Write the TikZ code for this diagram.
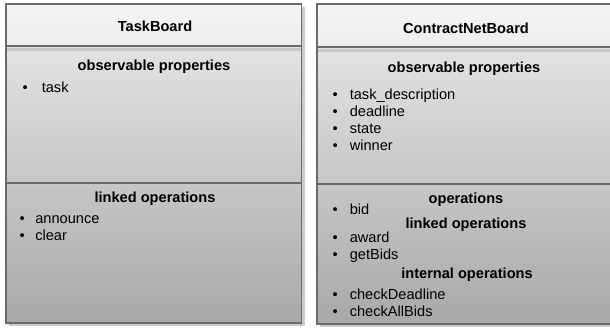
\documentclass[tikz,border=0pt]{standalone}
\usepackage{fontspec}
\setmainfont{Liberation Sans}
\begin{document}
\begin{tikzpicture}[x=1pt,y=-1pt,
  border/.style={draw=bordergray,line width=1.8pt},
  sep/.style={draw=bordergray,line width=1.6pt},
  sepshadow/.style={draw=black!22,line width=2.5pt},
  shadowbox/.style={fill=black!35,opacity=0.6},
  titlefill/.style={top color=black!4,bottom color=black!7},
  bodyfill/.style={top color=black!11,bottom color=black!34},
  head/.style={font=\fontsize{14.6}{17}\selectfont\bfseries,anchor=base,inner sep=0pt},
  item/.style={font=\fontsize{14.6}{17}\selectfont,anchor=base west,inner sep=0pt}]
\definecolor{bordergray}{HTML}{6A6A6A}
\useasboundingbox (0,0) rectangle (610,327);
\newcommand\bul[1]{\textbullet\hspace{#1pt}}
% ---------- left box ----------
\fill[shadowbox] (9,7) rectangle (305,326);
\shade[titlefill] (6,4) rectangle (301.5,46);
\shade[bodyfill] (6,46) rectangle (301.5,323);
\draw[sepshadow] (7,49.5) -- (300.5,49.5);
\draw[sepshadow] (7,186) -- (300.5,186);
\draw[sep] (6,46) -- (301.5,46);
\draw[sep] (6,183) -- (301.5,183);
\draw[border] (6,4) rectangle (301.5,323);
\node[head] (tbtitle) at (155,31.5) {TaskBoard};
\node[head] (tbobs) at (154,70) {observable properties};
\node[item] (tbtask) at (22.5,92.5) {\bul{14}task};
\node[head] (tblinked) at (155,202) {linked operations};
\node[item] (tbann) at (19.5,223) {\bul{10.5}announce};
\node[item] (tbclear) at (19.5,240) {\bul{10.5}clear};
% ---------- right box ----------
\fill[shadowbox] (320,7) rectangle (614,327);
\shade[titlefill] (317,4) rectangle (614,47);
\shade[bodyfill] (317,47) rectangle (614,324);
\draw[sepshadow] (318,50.5) -- (614,50.5);
\draw[sepshadow] (318,187) -- (614,187);
\draw[sep] (317,47) -- (614,47);
\draw[sep] (317,184) -- (614,184);
\draw[border] (317,4) rectangle (616,324);
\node[head] (cntitle) at (466,33) {ContractNetBoard};
\node[head] (cnobs) at (464,72) {observable properties};
\node[item] (cntask) at (332.5,99.5) {\bul{12}task\_description};
\node[item] (cndead) at (332.5,116.5) {\bul{12}deadline};
\node[item] (cnstate) at (332.5,133.5) {\bul{12}state};
\node[item] (cnwin) at (332.5,150.5) {\bul{12}winner};
\node[head] (cnops) at (466,203) {operations};
\node[item] (cnbid) at (332.5,214) {\bul{12}bid};
\node[head] (cnlinked) at (466,228) {linked operations};
\node[item] (cnaward) at (332.5,242.5) {\bul{12}award};
\node[item] (cnget) at (332.5,259.5) {\bul{12}getBids};
\node[head] (cnint) at (467,278) {internal operations};
\node[item] (cncheckd) at (332.5,299) {\bul{12}checkDeadline};
\node[item] (cnchecka) at (332.5,316) {\bul{12}checkAllBids};
\end{tikzpicture}
\end{document}
